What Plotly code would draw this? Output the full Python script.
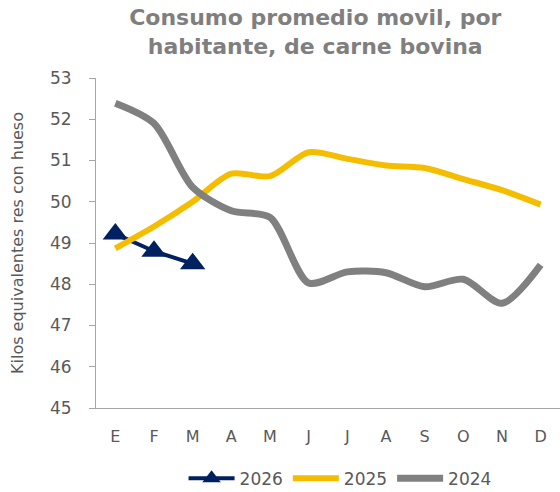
import plotly.graph_objects as go

months = ["E", "F", "M", "A", "M", "J", "J", "A", "S", "O", "N", "D"]
x_idx = list(range(12))
y2026 = [49.22, 48.8, 48.5]
y2025 = [48.87, 49.4, 50.0, 50.68, 50.62, 51.2, 51.04, 50.88, 50.82, 50.55, 50.28, 49.93]
y2024 = [52.39, 51.9, 50.35, 49.78, 49.62, 48.03, 48.3, 48.28, 47.94, 48.12, 47.54, 48.47]
yticks = [45, 46, 47, 48, 49, 50, 51, 52, 53]

fig = go.Figure()
fig.add_trace(go.Scatter(x=x_idx[:3], y=y2026, name="2026", mode="lines+markers",
                         line=dict(color="#002060", width=4),
                         marker=dict(symbol="triangle-up", size=22, color="#002060")))
fig.add_trace(go.Scatter(x=x_idx, y=y2025, name="2025", mode="lines",
                         line=dict(color="#F5BD00", width=6, shape="spline", smoothing=0.8)))
fig.add_trace(go.Scatter(x=x_idx, y=y2024, name="2024", mode="lines",
                         line=dict(color="#808080", width=7, shape="spline", smoothing=0.8)))

font_family = "DejaVu Sans, sans-serif"
fig.update_layout(
    width=560, height=492,
    paper_bgcolor="white", plot_bgcolor="white",
    margin=dict(l=96, r=0, t=78, b=84, autoexpand=False),
    title=dict(text="<b>Consumo promedio movil, por<br>habitante, de carne bovina</b>",
               x=0.563, xanchor="center", y=1 - 25 / 492, yanchor="middle",
               yref="container", automargin=False,
               font=dict(family=font_family, size=22, color="#7F7F7F")),
    font=dict(family=font_family, color="#595959"),
    showlegend=True,
    legend=dict(orientation="h", x=0.526, xanchor="center", y=-0.16, yanchor="top",
                font=dict(size=17, color="#595959"), traceorder="normal",
                itemwidth=46, tracegroupgap=0),
    xaxis=dict(tickmode="array", tickvals=x_idx, ticktext=months,
               range=[-0.5, 11.5], showgrid=False, showline=True,
               linecolor="#A6A6A6", linewidth=1, ticks="", zeroline=False,
               automargin=False, ticklabelstandoff=14,
               tickfont=dict(size=16, color="#595959")),
    yaxis=dict(range=[45, 53], tickvals=yticks, showgrid=False, showline=True,
               linecolor="#A6A6A6", linewidth=1, ticks="outside", ticklen=6,
               tickcolor="#A6A6A6", zeroline=False, automargin=False,
               ticklabelstandoff=14,
               title=dict(text="Kilos equivalentes res con hueso", standoff=22,
                          font=dict(size=16, color="#595959")),
               tickfont=dict(size=17, color="#595959")),
)

fig.write_html("out.html", config={"displayModeBar": False},
               post_script="document.body.style.margin='0';")
